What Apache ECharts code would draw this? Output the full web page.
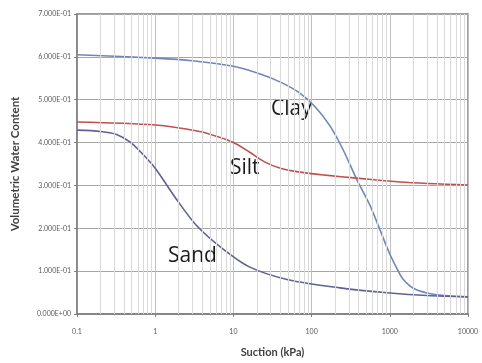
<!DOCTYPE html>
<html>
<head>
<meta charset="utf-8">
<script src="https://cdn.jsdelivr.net/npm/echarts@6/dist/echarts.min.js"></script>
<style>
  html, body { margin: 0; padding: 0; background: #fff; }
  #chart { width: 482px; height: 363px; }
</style>
</head>
<body>
<div id="chart"></div>
<script>
// suction (kPa) and volumetric water content
var claySuction = [0.1, 1, 3, 10, 22, 40, 70, 110, 170, 250, 380, 550, 750, 1000, 1300, 1500, 2000, 3000, 5000, 10000];
var clayWater   = [0.605, 0.597, 0.591, 0.578, 0.560, 0.541, 0.516, 0.484, 0.440, 0.385, 0.313, 0.256, 0.196, 0.140, 0.098, 0.080, 0.060, 0.049, 0.043, 0.040];

var siltSuction = [0.1, 1, 3.7, 6, 10, 16, 25, 40, 71, 150, 380, 1350, 10000];
var siltWater   = [0.448, 0.441, 0.426, 0.415, 0.400, 0.378, 0.355, 0.340, 0.331, 0.324, 0.317, 0.308, 0.301];

var sandSuction = [0.1, 0.2, 0.32, 0.48, 0.7, 1, 1.9, 3.4, 7, 16, 50, 230, 1000, 3000, 10000];
var sandWater   = [0.429, 0.426, 0.419, 0.401, 0.372, 0.340, 0.266, 0.206, 0.155, 0.110, 0.080, 0.061, 0.049, 0.043, 0.040];

var decades = [0.1, 1, 10, 100, 1000];

function pairs(xs, ys) {
    return xs.map(function (x, i) { return [x, ys[i]]; });
}

// minor vertical grid lines at 2..9 within each decade
var minorLines = [];
decades.forEach(function (d) {
    for (var k = 2; k <= 9; k++) {
        minorLines.push({ xAxis: +(d * k).toPrecision(3) });
    }
});

function fmtSci(v) {
    var s = v.toExponential(3).toUpperCase();
    return s.replace(/E([+-])(\d)$/, 'E$10$2');
}

var chart = echarts.init(document.getElementById('chart'), null, { renderer: 'canvas' });

function curve(name, xs, ys, color) {
    return {
        name: name,
        type: 'line',
        smooth: 0.3,
        showSymbol: false,
        data: pairs(xs, ys),
        lineStyle: { color: color, width: 1.6 }
    };
}

var option = {
    animation: false,
    grid: { left: 77, right: 14, top: 14, bottom: 49 },
    xAxis: {
        type: 'log',
        logBase: 10,
        min: 0.1,
        max: 10000,
        name: 'Suction (kPa)',
        nameLocation: 'middle',
        nameGap: 33,
        nameTextStyle: { fontFamily: 'Lato', fontWeight: 'bold', fontSize: 11, color: '#404040' },
        axisLine: { lineStyle: { color: '#7f7f7f', width: 1.5 } },
        axisTick: { show: true, length: 3, lineStyle: { color: '#7f7f7f' } },
        axisLabel: {
            fontFamily: 'Lato', fontSize: 7, color: '#595959', margin: 14,
            formatter: function (v) { return String(v); }
        },
        splitLine: { show: true, lineStyle: { color: '#bfbfbf', width: 1 } }
    },
    yAxis: {
        type: 'value',
        min: 0,
        max: 0.7,
        interval: 0.1,
        name: 'Volumetric Water Content',
        nameLocation: 'middle',
        nameGap: 56,
        nameTextStyle: { fontFamily: 'Lato', fontWeight: 'bold', fontSize: 11.5, color: '#404040' },
        axisLine: { show: true, lineStyle: { color: '#7f7f7f', width: 1.5 } },
        axisTick: { show: true, length: 3, lineStyle: { color: '#7f7f7f' } },
        axisLabel: {
            fontFamily: 'Lato', fontSize: 7, color: '#595959', margin: 6,
            formatter: fmtSci
        },
        splitLine: { show: true, lineStyle: { color: '#a6a6a6', width: 1 } }
    },
    series: [
        {
            name: 'grid',
            type: 'line',
            data: [],
            markLine: {
                silent: true,
                symbol: 'none',
                label: { show: false },
                lineStyle: { color: '#d9d9d9', type: 'solid', width: 1 },
                data: minorLines
            }
        },
        curve('Clay', claySuction, clayWater, '#6f87b8'),
        curve('Silt', siltSuction, siltWater, '#c0504d'),
        curve('Sand', sandSuction, sandWater, '#5e6394')
    ],
    graphic: [
        { type: 'rect', shape: { x: 77, y: 14, width: 391, height: 300 }, style: { fill: 'none', stroke: '#7f7f7f', lineWidth: 1.5 }, silent: true },
        { type: 'text', left: 271, top: 99, style: { text: 'Clay', fontFamily: 'Open Sans', fontSize: 21, fill: '#1a1a1a' } },
        { type: 'text', left: 230, top: 158, style: { text: 'Silt', fontFamily: 'Open Sans', fontSize: 21, fill: '#1a1a1a' } },
        { type: 'text', left: 168, top: 246, style: { text: 'Sand', fontFamily: 'Open Sans', fontSize: 21, fill: '#1a1a1a' } }
    ]
};

chart.setOption(option);
</script>
</body>
</html>
